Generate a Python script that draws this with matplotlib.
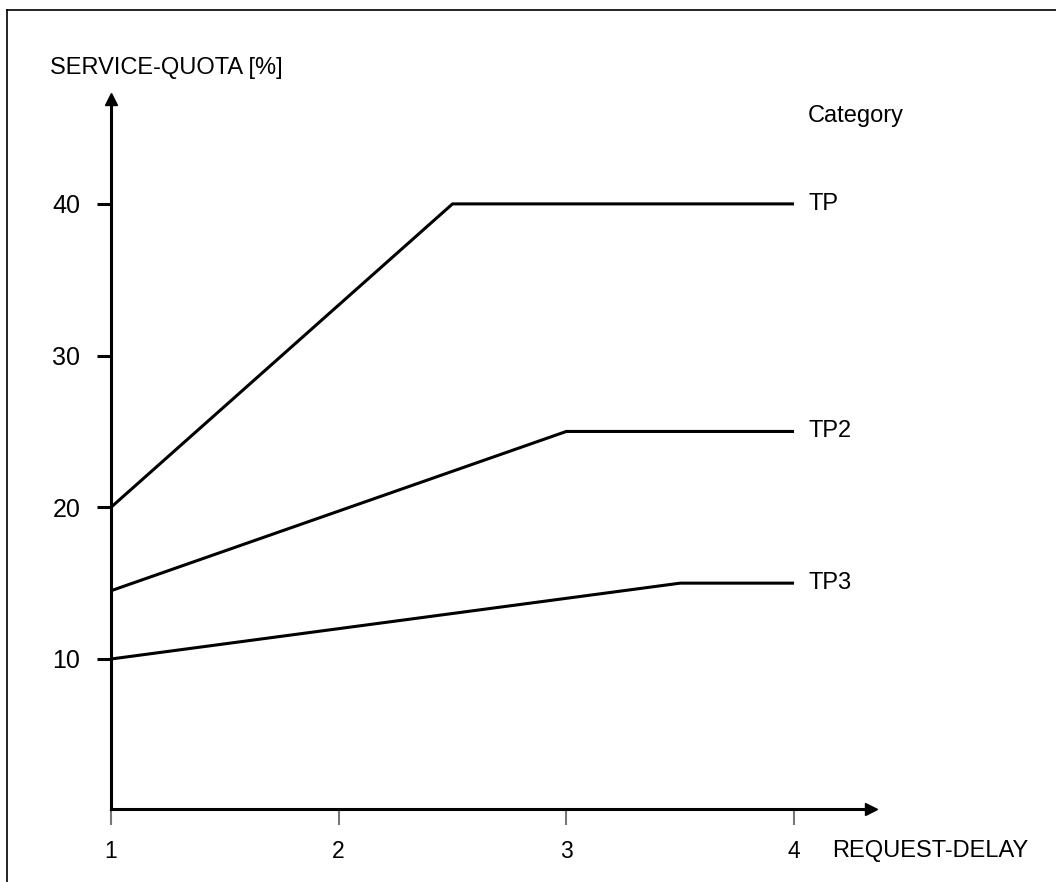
import matplotlib.pyplot as plt
from matplotlib.lines import Line2D

plt.rcParams['font.family'] = ['Liberation Sans', 'DejaVu Sans']

# data
categories = ['TP', 'TP2', 'TP3']
delay_points = [[1, 2.5, 4], [1, 3, 4], [1, 3.5, 4]]
quota_points = [[20, 40, 40], [14.5, 25, 25], [10, 15, 15]]
x_ticks = [1, 2, 3, 4]
y_ticks = [10, 20, 30, 40]

W, H = 1056, 882
fig = plt.figure(figsize=(W / 100, H / 100), dpi=100)

# axes box in pixels: x 111..871, y 99..809 (from top)
ax = fig.add_axes([111 / W, (H - 809) / H, (871 - 111) / W, (809 - 99) / H])
ax.set_xlim(1, 1 + (871 - 111) / 227.67)
y0 = (810.7 - 809) / 15.17
ax.set_ylim(y0, y0 + (809 - 99) / 15.17)

for s in ['top', 'right']:
    ax.spines[s].set_visible(False)
for s in ['left', 'bottom']:
    ax.spines[s].set_linewidth(2.2)

# arrow heads
ax.plot(1, 0, marker='>', color='black', markersize=8.5, transform=ax.transAxes, clip_on=False)
ax.plot(0, 1, marker='^', color='black', markersize=8.5, transform=ax.transAxes, clip_on=False)

for name, xs, ys in zip(categories, delay_points, quota_points):
    ax.plot(xs, ys, color='black', linewidth=2.2, solid_capstyle='butt', clip_on=False)
    ax.text(xs[-1] + 0.062, ys[-1], name, fontsize=17, va='center', ha='left')

ax.text(4.062, 45.8, 'Category', fontsize=17, va='center', ha='left')

ax.set_xticks(x_ticks)
ax.set_yticks(y_ticks)
ax.tick_params(axis='y', direction='out', length=10, width=2.2, pad=12,
               labelsize=18, colors='black')
ax.tick_params(axis='x', direction='out', length=11.5, width=1.5, pad=11,
               labelsize=16.5, color='#777777', labelcolor='black')

fig.text(50 / W, 1 - 68 / H, 'SERVICE-QUOTA [%]', fontsize=17, va='center', ha='left')
fig.text(832 / W, 1 - 851 / H, 'REQUEST-DELAY', fontsize=17, va='center', ha='left')

# outer frame (top and left edges)
fig.add_artist(Line2D([7 / W, 1], [1 - 10 / H, 1 - 10 / H], color='black', linewidth=1.2))
fig.add_artist(Line2D([7 / W, 7 / W], [0, 1 - 10 / H], color='black', linewidth=1.2))

fig.savefig('out.png', dpi=100)
